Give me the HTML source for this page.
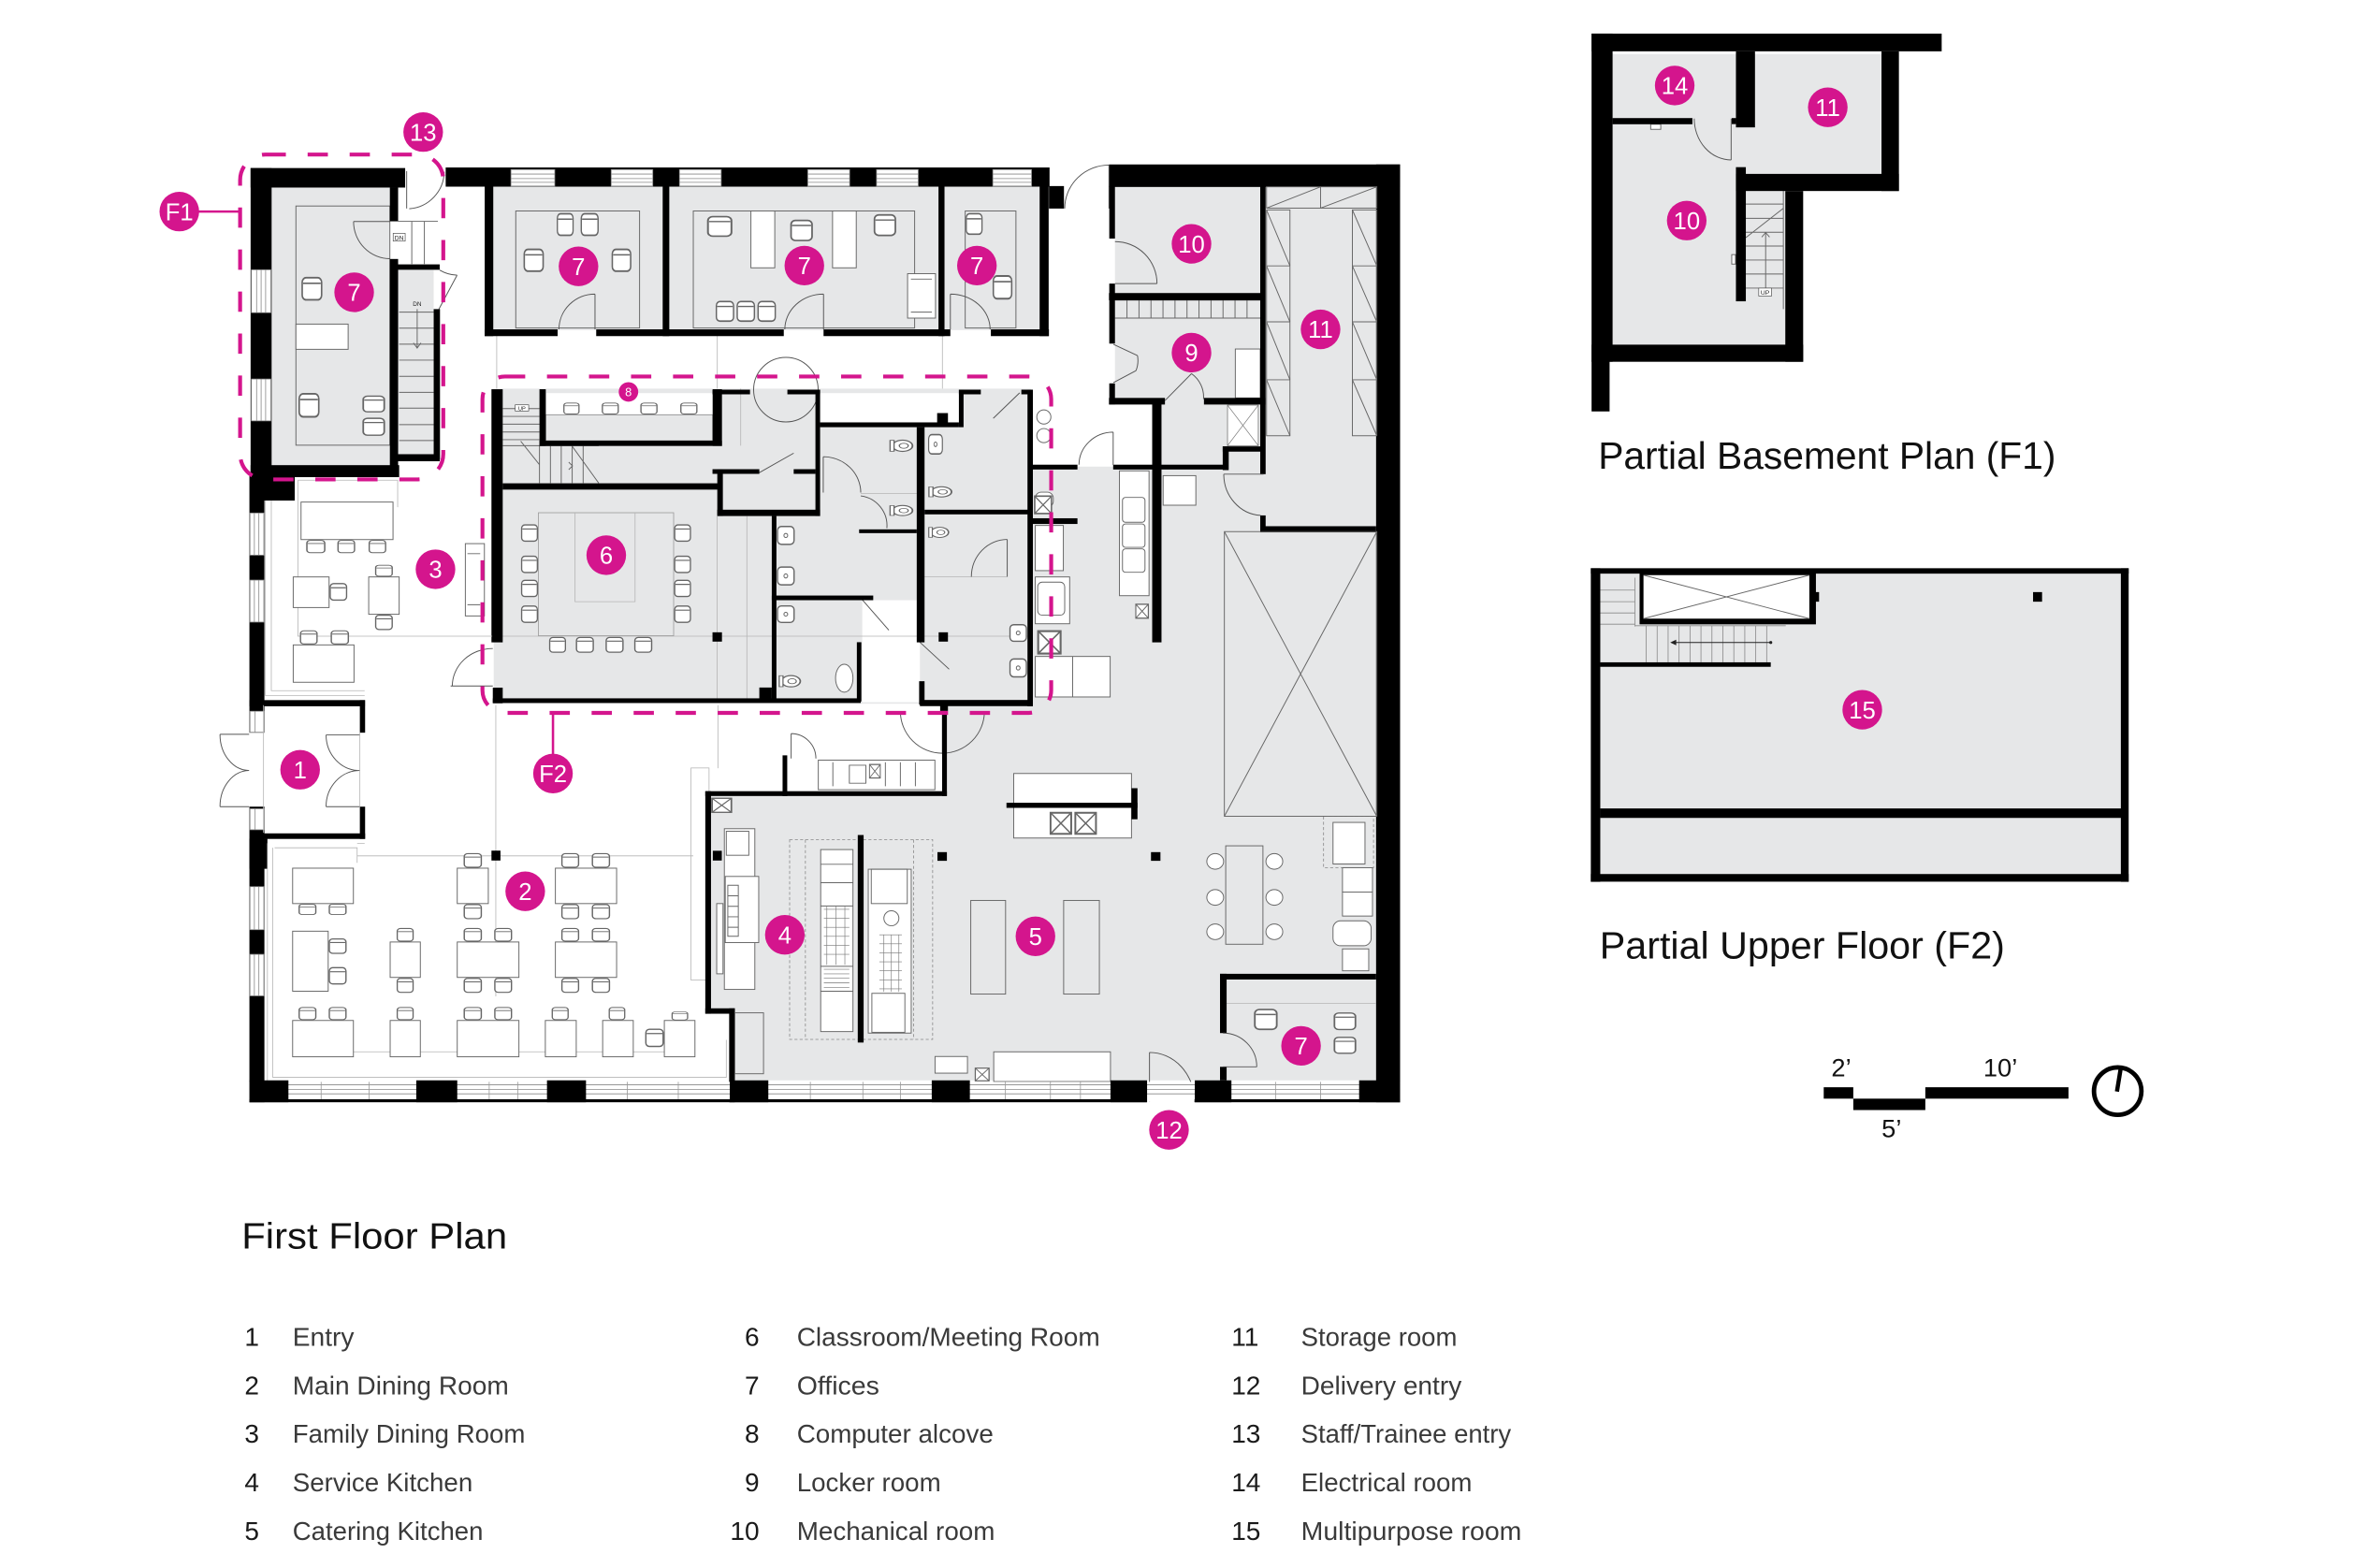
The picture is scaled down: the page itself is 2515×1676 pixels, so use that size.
<!DOCTYPE html>
<html><head><meta charset="utf-8">
<style>
html,body{margin:0;padding:0;background:#fff;}
svg{display:block;}
text{font-family:"Liberation Sans",Arial,sans-serif;}
.l{fill:none;stroke:#666;stroke-width:0.6}
.w{fill:#fff;stroke:#666;stroke-width:0.6}
.gl{fill:none;stroke:#b5b5b5;stroke-width:0.5}
.gf{fill:#e6e7e8}
.k{fill:#000}
.d{fill:none;stroke:#555;stroke-width:0.6}
.mg{fill:#d4158d}
.lab{fill:#fff;font-size:16px;text-anchor:middle}
.dash{fill:none;stroke:#d4158d;stroke-width:2.6;stroke-dasharray:13.5 14.5}
.lg{font-size:17.5px;fill:#3a3a3a}
.ln{font-size:17.5px;fill:#1a1a1a}
</style></head>
<body>
<svg width="2515" height="1676" viewBox="0 0 1568 1045" preserveAspectRatio="none" xmlns="http://www.w3.org/2000/svg">
<defs>
<symbol id="ch" viewBox="0 0 10 10" preserveAspectRatio="none">
<rect x="0.6" y="0.6" width="8.8" height="8.8" rx="1.8" fill="#fff" stroke="#666" stroke-width="0.7"/>
<line x1="1" y1="2.8" x2="9" y2="2.8" stroke="#666" stroke-width="0.6"/>
</symbol>
<symbol id="xb" viewBox="0 0 10 10" preserveAspectRatio="none">
<rect x="0.5" y="0.5" width="9" height="9" fill="#fff" stroke="#666" stroke-width="0.8"/>
<path d="M0.5,0.5 L9.5,9.5 M9.5,0.5 L0.5,9.5" stroke="#666" stroke-width="0.6"/>
</symbol>
<symbol id="wc" viewBox="0 0 10 10" preserveAspectRatio="none">
<ellipse cx="5.5" cy="5" rx="4" ry="3.6" fill="#fff" stroke="#666" stroke-width="0.7"/>
<ellipse cx="6" cy="5" rx="1.8" ry="1.6" fill="none" stroke="#666" stroke-width="0.5"/>
<rect x="0.5" y="1.5" width="1.6" height="7" fill="#fff" stroke="#666" stroke-width="0.5"/>
</symbol>
<symbol id="sk" viewBox="0 0 10 10" preserveAspectRatio="none">
<rect x="0.6" y="0.6" width="8.8" height="8.8" rx="2" fill="#fff" stroke="#666" stroke-width="0.7"/>
<circle cx="5" cy="5" r="1" fill="none" stroke="#666" stroke-width="0.5"/>
</symbol>
</defs>

<!-- ================= MAIN FIRST FLOOR ================= -->
<rect class="gf" x="181" y="125" width="79" height="186"/>
<rect class="gf" x="265" y="180" width="24" height="123"/>
<rect class="gf" x="323" y="124" width="376" height="96"/>
<rect class="gf" x="329" y="259" width="358" height="210"/>
<rect x="546" y="262" width="93" height="20" fill="#fff"/>
<rect x="574.6" y="400" width="38.4" height="68" fill="#fff"/>
<rect x="364" y="262" width="111" height="14.5" fill="#fff"/>
<polygon class="gf" points="473,530 631,530 631,470 687,470 687,311 773,311 773,268 743,268 743,124 917,124 917,720 488,720 488,675 473,675"/>

<path class="gl" d="M331,223 V259 M478,223 V259 M628,223 V259 M330.4,470 V664 M478.4,470 V512 M238,570.4 H462 M329,424 H687 M477.9,344 V467 M497.7,344 V467 M493.6,259 V297"/>

<!-- F1 office furniture -->
<rect class="l" x="197.2" y="137.3" width="62.6" height="159.4"/>
<rect class="w" x="197.2" y="216" width="34.8" height="16.8"/>
<use href="#ch" x="200.5" y="184.1" width="14.7" height="16.7"/>
<use href="#ch" x="198.5" y="261.4" width="14.8" height="17.4"/>
<use href="#ch" x="241.1" y="263.3" width="15.9" height="11.9"/>
<use href="#ch" x="241.1" y="278" width="15.9" height="12.8"/>
<rect x="265.3" y="147.5" width="26.5" height="28.7" fill="#fff"/>
<path class="l" d="M274.4,147.5 V176 M282.8,147.5 V176 M265.3,147.5 H291.8"/>
<rect x="262" y="155.5" width="8" height="5.2" fill="#fff" stroke="#444" stroke-width="0.4"/>
<text x="266" y="159.8" font-size="4.2" text-anchor="middle" fill="#222">DN</text>
<path class="l" d="M266,208 H289 M266,218.7 H289 M266,229.4 H289 M266,240 H289 M266,250.8 H289 M266,261.5 H289 M266,272 H289 M266,283 H289 M266,293.6 H289"/>
<text x="278" y="204" font-size="4" text-anchor="middle" fill="#222">DN</text>
<path class="l" d="M278,206 V232 M275.5,228.5 L278,232 L280.5,228.5"/>
<path class="d" d="M292.5,206 L304.6,183.4 M304.6,183.4 A24,24 0 0 1 293,180"/>

<!-- top walls & windows -->
<rect class="k" x="167" y="112" width="103" height="13"/>
<rect class="k" x="297" y="111.6" width="402.4" height="12.8"/>
<rect class="k" x="699" y="124" width="10" height="15"/>
<rect class="k" x="739" y="109.6" width="194" height="15"/>
<rect class="k" x="917" y="109.6" width="16" height="625"/>
<g fill="#fff" stroke="#888" stroke-width="0.5">
<rect x="340.5" y="113" width="29.2" height="11"/>
<rect x="407.3" y="113" width="27.7" height="11"/>
<rect x="452.8" y="113" width="27.8" height="11"/>
<rect x="538.3" y="113" width="27.9" height="11"/>
<rect x="584.1" y="113" width="27.8" height="11"/>
<rect x="661.6" y="113" width="25.8" height="11"/>
</g>
<path stroke="#888" stroke-width="0.5" d="M340.5,116 H369.7 M340.5,119 H369.7 M340.5,121.5 H369.7 M407.3,116 H435 M407.3,119 H435 M407.3,121.5 H435 M452.8,116 H480.6 M452.8,119 H480.6 M452.8,121.5 H480.6 M538.3,116 H566.2 M538.3,119 H566.2 M538.3,121.5 H566.2 M584.1,116 H611.9 M584.1,119 H611.9 M584.1,121.5 H611.9 M661.6,116 H687.4 M661.6,119 H687.4 M661.6,121.5 H687.4"/>

<!-- left wall -->
<rect class="k" x="167" y="112" width="14" height="206"/>
<rect class="k" x="166.2" y="317" width="10" height="171.3"/>
<rect class="k" x="166.2" y="537.6" width="10" height="197"/>
<rect class="k" x="166.2" y="559" width="12" height="20"/>
<rect class="k" x="167.3" y="317" width="29.1" height="16.6"/>
<g fill="#fff" stroke="#888" stroke-width="0.5">
<rect x="167.5" y="179.8" width="13" height="28.6"/>
<rect x="167.5" y="252.6" width="13" height="27.9"/>
<rect x="166.6" y="341.9" width="9.2" height="28.1"/>
<rect x="166.6" y="386.6" width="9.2" height="28"/>
<rect x="166.6" y="474" width="9.2" height="14"/>
<rect x="166.6" y="539" width="9.2" height="14"/>
<rect x="166.6" y="590.9" width="9.2" height="28.7"/>
<rect x="166.6" y="636" width="9.2" height="27.7"/>
</g>
<path stroke="#888" stroke-width="0.5" d="M171,179.8 V208.4 M174,179.8 V208.4 M177,179.8 V208.4 M171,252.6 V280.5 M174,252.6 V280.5 M177,252.6 V280.5 M169.5,341.9 V370 M172.5,341.9 V370 M169.5,386.6 V414.6 M172.5,386.6 V414.6 M169.5,590.9 V619.6 M172.5,590.9 V619.6 M169.5,636 V663.7 M172.5,636 V663.7 M170,474 V488 M170,539 V553"/>

<!-- F1 block walls -->
<rect class="k" x="167" y="310" width="99" height="8"/>
<rect class="k" x="259.8" y="125" width="5.5" height="22.5"/>
<rect class="k" x="259.8" y="172.6" width="5.5" height="140"/>
<rect class="k" x="265" y="176.2" width="28" height="3.6"/>
<rect class="k" x="289" y="206" width="4.2" height="100.3"/>
<rect class="k" x="265" y="302.7" width="28" height="4.7"/>
<path class="d" d="M271,114 V139 M272.7,139.1 A25,25 0 0 0 296,114.5"/>
<path class="d" d="M259.8,147.6 H235.6 M235.6,147.6 A24.2,24.8 0 0 0 259.8,172.4"/>

<!-- Offices -->
<rect class="l" x="343.7" y="140.6" width="82.5" height="78"/>
<rect class="l" x="462" y="140.6" width="147.5" height="78"/>
<rect class="l" x="643.2" y="140.6" width="33.8" height="78"/>
<use href="#ch" x="370.7" y="141.5" width="11.9" height="16.3"/>
<use href="#ch" x="386.6" y="141.5" width="12.7" height="16.3"/>
<use href="#ch" x="348.5" y="165.2" width="14.3" height="16.5"/>
<use href="#ch" x="407.2" y="165.2" width="13.9" height="16.5"/>
<rect class="w" x="500.4" y="140.6" width="15.9" height="37.9"/>
<rect class="w" x="554.8" y="140.6" width="15.8" height="37.9"/>
<use href="#ch" x="470.7" y="143.5" width="17.8" height="14.8"/>
<use href="#ch" x="526.2" y="146" width="15.9" height="15.2"/>
<use href="#ch" x="581.8" y="142.3" width="15.8" height="15.5"/>
<use href="#ch" x="476.6" y="200.1" width="13" height="14.8"/>
<use href="#ch" x="490.5" y="200.1" width="13" height="14.8"/>
<use href="#ch" x="504.4" y="200.1" width="13" height="14.8"/>
<rect class="w" x="604.8" y="182.4" width="18.6" height="29.6"/>
<path class="l" d="M607,186 H621 M607,208 H621"/>
<use href="#ch" x="643.2" y="141.5" width="11.9" height="15.5"/>
<use href="#ch" x="661.1" y="182.9" width="13.9" height="17.2"/>
<rect class="k" x="323" y="124" width="5.7" height="100"/>
<rect class="k" x="441.6" y="124" width="4.4" height="100"/>
<rect class="k" x="625.4" y="124" width="4" height="100"/>
<rect class="k" x="692.8" y="124" width="6" height="100"/>
<rect class="k" x="323" y="219.5" width="48.6" height="4.5"/>
<rect class="k" x="397.3" y="219.5" width="125" height="4.5"/>
<rect class="k" x="548.8" y="219.5" width="84.5" height="4.5"/>
<rect class="k" x="660.3" y="219.5" width="38.7" height="4.5"/>
<path class="d" d="M396.5,219.5 V196 M396.5,196 A24,23.5 0 0 0 372.5,219.5"/>
<path class="d" d="M548.8,219.5 V196 M548.8,196 A25.8,23.5 0 0 0 523,219.5"/>
<path class="d" d="M633.3,219.5 V196 M633.3,196 A26.5,23.5 0 0 1 659.8,219.5"/>
<path class="d" d="M739,139 V110 M739,110 A29.5,29 0 0 0 709.5,139"/>

<!-- Right block rooms 10 / 9 / 11 -->
<path class="l" d="M743,200 H840 M743,212 H840 M751,200 V212 M759,200 V212 M767,200 V212 M775,200 V212 M783,200 V212 M791,200 V212 M799,200 V212 M807,200 V212 M815,200 V212 M823,200 V212 M831,200 V212"/>
<rect class="w" x="823.2" y="232.6" width="16.6" height="32.6"/>
<g class="l">
<rect x="844" y="124.5" width="73.5" height="14.2"/>
<path d="M844,138.7 L880,124.5 M880,138.7 L917.5,124.5 M880,124.5 V138.7"/>
<rect x="844" y="139.9" width="15.6" height="150.5"/>
<path d="M844,177.2 H859.6 M844,214.5 H859.6 M844,253.1 H859.6 M844,139.9 L859.6,177.2 M844,177.2 L859.6,214.5 M844,214.5 L859.6,253.1 M844,253.1 L859.6,290.4"/>
<rect x="901.2" y="139.9" width="16.3" height="150.5"/>
<path d="M901.2,177.2 H917.5 M901.2,214.5 H917.5 M901.2,253.1 H917.5 M901.2,139.9 L917.5,177.2 M901.2,177.2 L917.5,214.5 M901.2,214.5 L917.5,253.1 M901.2,253.1 L917.5,290.4"/>
</g>
<rect x="818" y="270" width="20.5" height="27" fill="#fff" stroke="#777" stroke-width="0.5"/>
<path stroke="#777" stroke-width="0.45" d="M818,270 L838.5,297 M838.5,270 L818,297"/>
<rect class="k" x="739.2" y="124" width="3.8" height="35"/>
<rect class="k" x="739.2" y="189" width="3.8" height="40"/>
<rect class="k" x="739.2" y="255.5" width="3.8" height="14"/>
<rect class="k" x="739" y="195.3" width="104" height="4.8"/>
<rect class="k" x="839.8" y="124" width="3.6" height="192"/>
<rect class="k" x="839.8" y="343.5" width="3.6" height="11"/>
<rect class="k" x="739" y="265.2" width="37.3" height="4.4"/>
<rect class="k" x="802.3" y="265.2" width="41" height="4.4"/>
<rect class="k" x="767.8" y="267.6" width="6.2" height="160.5"/>
<rect class="k" x="687.8" y="309.7" width="30.2" height="3.2"/>
<rect class="k" x="741.8" y="309.7" width="76" height="3.2"/>
<rect class="k" x="814.8" y="297.5" width="4" height="15.8"/>
<rect class="k" x="814.8" y="297.5" width="28" height="3.5"/>
<rect class="k" x="839.8" y="350.7" width="77.2" height="4.1"/>
<rect class="k" x="687.8" y="345.4" width="30.2" height="3.8"/>
<path class="d" d="M771,189 H743 M771,189 A28,28 0 0 0 743,161"/>
<path class="d" d="M742,229.5 L758,237 M742,255 L757,247 M758,237 A18,18 0 0 1 757,247"/>
<path class="d" d="M776.3,267 L794,249 M794,249 A19,19 0 0 1 802,266"/>
<path class="d" d="M741.8,310 V288 M741.8,288 A23,22 0 0 0 719,309.7"/>
<path class="d" d="M842,316 H815.5 M815.5,316 A26,27.5 0 0 0 840,343.5"/>

<!-- F2 block: stairs, alcove, room 6 -->
<path class="l" d="M335,272.3 H359.5 M335,277.5 H359.5 M335,282.7 H359.5 M335,287.9 H359.5 M335,293 H359.5"/>
<rect x="343.3" y="269.8" width="9" height="4.1" fill="#fff" stroke="#444" stroke-width="0.4"/>
<text x="347.8" y="273.4" font-size="3.6" text-anchor="middle" fill="#222">UP</text>
<path class="l" d="M359.5,297 V322 M366.8,297 V322 M374,297 V322 M381.3,297 V322 M388.6,297 V322 M347,294 L359.5,309.7 M381,297 L399,322 M335,297 H399 M379,308 L381.5,310.5 L379,313"/>
<rect x="363.7" y="276.4" width="111.2" height="17.3" fill="#e6e7e8" stroke="#888" stroke-width="0.5"/>
<use href="#ch" x="375.1" y="268.1" width="11.4" height="8.3"/>
<use href="#ch" x="400.7" y="268.1" width="12" height="8.3"/>
<use href="#ch" x="426.4" y="268.1" width="12.1" height="8.3"/>
<use href="#ch" x="453" y="268.1" width="12.1" height="8.3"/>
<use href="#ch" x="346.9" y="349.1" width="11.9" height="12.3"/>
<use href="#ch" x="346.9" y="370" width="11.9" height="12.3"/>
<use href="#ch" x="346.9" y="386" width="11.9" height="12.3"/>
<use href="#ch" x="346.9" y="403.2" width="11.9" height="12.3"/>
<use href="#ch" x="448.9" y="349.1" width="11.9" height="12.3"/>
<use href="#ch" x="448.9" y="370" width="11.9" height="12.3"/>
<use href="#ch" x="448.9" y="386" width="11.9" height="12.3"/>
<use href="#ch" x="448.9" y="403.2" width="11.9" height="12.3"/>
<use href="#ch" x="365.6" y="424.2" width="11.9" height="11.1"/>
<use href="#ch" x="383.4" y="424.2" width="12.7" height="11.1"/>
<use href="#ch" x="403.2" y="424.2" width="12.7" height="11.1"/>
<use href="#ch" x="422.3" y="424.2" width="12.7" height="11.1"/>
<rect x="358.8" y="341.7" width="90.1" height="82" fill="#e6e7e8" stroke="#999" stroke-width="0.5"/>
<path class="gl" d="M383.2,341.7 V401 H423.2 V341.7"/>

<!-- toilet fixtures -->
<use href="#wc" x="592.3" y="291.9" width="16.6" height="10.4"/>
<use href="#wc" x="592.3" y="335.6" width="16.6" height="9.3"/>
<use href="#wc" x="618.2" y="323.1" width="16.7" height="9.4"/>
<use href="#wc" x="618.2" y="350.1" width="14.6" height="9.4"/>
<use href="#wc" x="518.5" y="448.8" width="15.6" height="10.4"/>
<ellipse cx="562.6" cy="452" rx="5.8" ry="9.3" fill="#fff" stroke="#666" stroke-width="0.6"/>
<use href="#sk" x="517.4" y="350.1" width="12.5" height="13.5"/>
<use href="#sk" x="517.4" y="377.1" width="12.5" height="13.5"/>
<use href="#sk" x="517.4" y="403.1" width="12.5" height="12.5"/>
<use href="#sk" x="618.2" y="288.8" width="10.4" height="14.6"/>
<use href="#sk" x="672.3" y="415.6" width="12.4" height="12.5"/>
<use href="#sk" x="672.3" y="438.4" width="12.4" height="13.5"/>
<circle cx="695.6" cy="277.9" r="4.7" fill="#fff" stroke="#666" stroke-width="0.6"/>
<circle cx="695.6" cy="290.3" r="4.7" fill="#fff" stroke="#666" stroke-width="0.6"/>
<path class="gl" d="M573.6,329 H610.9 M616,384.4 H671"/>
<path class="d" d="M548.6,328.3 V304.4 M548.6,304.4 A25,24 0 0 1 573.6,328.3"/>
<path class="d" d="M573.6,330.5 A20,20 0 0 1 591,352"/>
<path class="d" d="M671.2,384.4 V359.5 M671.2,359.5 A24,25 0 0 0 647.3,384.4"/>
<path class="d" d="M679.5,261.8 L661.9,278.8"/>
<path class="d" d="M506,315 L528.9,302 M574,399 L592.3,420 M613,428 L632.5,446"/>
<circle cx="523.7" cy="259.7" r="21.5" class="d"/>

<!-- F2 walls -->
<rect class="k" x="327.5" y="259.4" width="7.5" height="168.7"/>
<rect class="k" x="328.4" y="458.3" width="6.6" height="10.4"/>
<rect class="k" x="335" y="322.1" width="146" height="4.2"/>
<rect class="k" x="359.5" y="259.4" width="4.2" height="37.8"/>
<rect class="k" x="359.5" y="293.7" width="121.6" height="3.5"/>
<rect class="k" x="474.9" y="259.4" width="6.2" height="37.8"/>
<rect class="k" x="474.8" y="259.7" width="25" height="3.1"/>
<rect class="k" x="524.7" y="259.7" width="21.8" height="3.1"/>
<rect class="k" x="543.4" y="259.7" width="3.1" height="84.2"/>
<rect class="k" x="478" y="312.7" width="3.7" height="31.2"/>
<rect class="k" x="474.8" y="312.7" width="31.2" height="3.1"/>
<rect class="k" x="528.9" y="312.7" width="14.5" height="3.1"/>
<rect class="k" x="478" y="339.7" width="68.5" height="4.2"/>
<rect class="k" x="546.5" y="281.5" width="92.5" height="3.2"/>
<rect class="k" x="639" y="259.7" width="3.1" height="25"/>
<rect class="k" x="639" y="259.7" width="14.6" height="3.1"/>
<rect class="k" x="680.6" y="259.7" width="7.3" height="3.1"/>
<rect class="k" x="624.5" y="275.3" width="7.2" height="7.3"/>
<rect class="k" x="684.7" y="259.7" width="3.6" height="211"/>
<rect class="k" x="610.9" y="284.7" width="5.2" height="143.4"/>
<rect class="k" x="612.5" y="454" width="3.6" height="15.6"/>
<rect class="k" x="616.1" y="339.7" width="71.8" height="3.1"/>
<rect class="k" x="572.5" y="352.8" width="38.4" height="2.5"/>
<rect class="k" x="514.3" y="343.9" width="3.1" height="123.6"/>
<rect class="k" x="514.3" y="396.9" width="67.6" height="3.1"/>
<rect class="k" x="571" y="428" width="3" height="39.5"/>
<rect class="k" x="328.4" y="465.4" width="245.2" height="3.1"/>
<rect class="k" x="613" y="466.5" width="74.9" height="4.1"/>
<rect class="k" x="506" y="458.2" width="8.3" height="9.3"/>
<rect class="k" x="626.5" y="467.5" width="5.2" height="6.3"/>
<rect class="k" x="474.8" y="421.4" width="6.3" height="6.2"/>
<rect class="k" x="625.5" y="421.4" width="6.2" height="6.2"/>
<path class="d" d="M328.4,457.2 H300.3 M301.4,457.2 A27,25 0 0 1 328.4,432.2"/>

<!-- Family dining (3) -->
<path class="gl" d="M176.7,333.6 V463.5 H243 M180.8,333.6 V460.3 H243 M198.5,320 V424 H328 M198.5,320 H265 V338"/>
<use href="#ch" x="203.7" y="359.6" width="13.5" height="9.3"/>
<use href="#ch" x="224.5" y="359.6" width="12.5" height="9.3"/>
<use href="#ch" x="245.3" y="359.6" width="12.4" height="9.3"/>
<use href="#ch" x="219.3" y="388.2" width="12.4" height="12.5"/>
<use href="#ch" x="249.6" y="376.2" width="12.5" height="8.3"/>
<use href="#ch" x="249.6" y="409.4" width="12.5" height="10.8"/>
<use href="#ch" x="199.5" y="419.8" width="12.5" height="10"/>
<use href="#ch" x="220" y="419.8" width="12.9" height="10"/>
<rect class="w" x="200.6" y="334.6" width="61.3" height="25"/>
<rect class="w" x="195.4" y="384.5" width="23.9" height="20.4"/>
<rect class="w" x="245.7" y="384.5" width="20.3" height="24.9"/>
<rect class="w" x="195.4" y="429.8" width="40.5" height="24.9"/>
<rect class="w" x="310.1" y="362.3" width="12.7" height="48.2"/>
<path class="l" d="M311.5,369 H320 M311.5,403 H320"/>

<!-- Entry (1) -->
<rect class="k" x="166.2" y="466.6" width="77" height="4.1"/>
<rect class="k" x="239.8" y="466.6" width="3.5" height="21.7"/>
<rect class="k" x="239.8" y="537.6" width="3.5" height="21.5"/>
<rect class="k" x="175.4" y="555.4" width="67.9" height="3.7"/>
<path class="gl" d="M175.6,470 V555 M239.8,488 V537.6"/>
<path class="d" d="M166,489.4 H146.6 M146.6,489.4 A19.6,24 0 0 0 166,513.5 M166,537.6 H146.6 M146.6,537.6 A19.6,24 0 0 1 166,513.5"/>
<path class="d" d="M239.6,489.8 H217.3 M217.3,489.8 A22.3,23.7 0 0 0 239.6,513.5 M239.6,537.6 H217.3 M217.3,537.6 A22.3,24 0 0 1 239.6,513.5"/>

<!-- Main dining (2) -->
<path class="gl" d="M178.2,562 V721 M181.8,565 V718 H484 V693 M486.3,693 V721 M243,562 H238 M183,565 H238 V575 M195,701 H463"/>
<use href="#ch" x="198.6" y="602.2" width="12.6" height="7.8"/>
<use href="#ch" x="218.7" y="602.2" width="12.6" height="7.8"/>
<use href="#ch" x="308.6" y="568.3" width="12.9" height="10.3"/>
<use href="#ch" x="308.6" y="602.2" width="12.9" height="10.7"/>
<use href="#ch" x="373.7" y="568.3" width="12.6" height="10.3"/>
<use href="#ch" x="394" y="568.3" width="12.9" height="10.3"/>
<use href="#ch" x="373.7" y="602.2" width="12.6" height="10.7"/>
<use href="#ch" x="394" y="602.2" width="12.9" height="10.7"/>
<use href="#ch" x="218.7" y="625.1" width="12.6" height="10.9"/>
<use href="#ch" x="218.7" y="644.2" width="12.6" height="12.3"/>
<use href="#ch" x="264" y="618.2" width="12" height="9.6"/>
<use href="#ch" x="264" y="651.4" width="12" height="10.6"/>
<use href="#ch" x="308.6" y="618.2" width="12.9" height="9.6"/>
<use href="#ch" x="329" y="618.2" width="12.6" height="9.6"/>
<use href="#ch" x="308.6" y="651.4" width="12.9" height="10.6"/>
<use href="#ch" x="329" y="651.4" width="12.6" height="10.6"/>
<use href="#ch" x="373.7" y="618.2" width="12.6" height="9.6"/>
<use href="#ch" x="394" y="618.2" width="12.9" height="9.6"/>
<use href="#ch" x="373.7" y="651.4" width="12.6" height="10.6"/>
<use href="#ch" x="394" y="651.4" width="12.9" height="10.6"/>
<use href="#ch" x="198.6" y="670.9" width="12.6" height="9.2"/>
<use href="#ch" x="218.7" y="670.9" width="12.6" height="9.2"/>
<use href="#ch" x="264" y="670.9" width="12" height="9.2"/>
<use href="#ch" x="308.6" y="670.9" width="12.9" height="9.2"/>
<use href="#ch" x="329" y="670.9" width="12.6" height="9.2"/>
<use href="#ch" x="367.3" y="670.9" width="12" height="9.2"/>
<use href="#ch" x="405.3" y="670.9" width="11.7" height="9.2"/>
<use href="#ch" x="447.2" y="674" width="11.7" height="6.1"/>
<use href="#ch" x="429.6" y="685.2" width="13.1" height="13"/>
<rect class="w" x="195" y="578.6" width="40.5" height="23.6"/>
<rect class="w" x="304.7" y="578.6" width="20.7" height="23.6"/>
<rect class="w" x="370.1" y="578.6" width="40.8" height="23.6"/>
<rect class="w" x="195" y="620.6" width="23.7" height="40"/>
<rect class="w" x="260" y="627.8" width="20.1" height="23.6"/>
<rect class="w" x="304.7" y="627.8" width="41.1" height="23.6"/>
<rect class="w" x="370.1" y="627.8" width="40.8" height="23.6"/>
<rect class="w" x="195" y="680.1" width="40.5" height="24.2"/>
<rect class="w" x="260" y="680.1" width="20.1" height="24.2"/>
<rect class="w" x="304.7" y="680.1" width="41.1" height="24.2"/>
<rect class="w" x="363.4" y="680.1" width="20.6" height="24.2"/>
<rect class="w" x="401.6" y="680.1" width="20.4" height="24.2"/>
<rect class="w" x="442.7" y="680.1" width="20.4" height="24.2"/>
<rect class="gl" x="460.5" y="511.8" width="12" height="141.4"/>
<rect class="k" x="327.5" y="566.9" width="6" height="6.6"/>

<!-- Kitchenette & kitchen -->
<rect class="w" x="545.3" y="506.6" width="77.7" height="19.7"/>
<path class="l" d="M555,508 V524 M566,510 H577 V522 H566 Z M590,508 V524 M600,508 V524 M610,508 V524"/>
<use href="#xb" x="579" y="509" width="8" height="10"/>
<path class="d" d="M527.2,505.5 V488.9 M527.2,488.9 A16.5,16.6 0 0 1 543.7,505.5"/>
<path class="d" d="M628,474 V502 M600,474 A28,28 0 0 0 628,502 M628,502 A28,28 0 0 0 656,474"/>
<rect class="k" x="521.5" y="503.4" width="3.1" height="27"/>
<rect class="k" x="521.5" y="527.3" width="109.5" height="3.2"/>
<rect class="k" x="627.8" y="474" width="3.2" height="56.5"/>
<rect class="k" x="470" y="527.3" width="54.6" height="3.2"/>
<rect class="k" x="470" y="527.3" width="3.8" height="148.3"/>
<rect class="k" x="470" y="672" width="19.7" height="3.6"/>
<rect class="k" x="485.9" y="672" width="3.8" height="62.6"/>
<use href="#xb" x="473.8" y="531.5" width="14.3" height="10.4"/>
<rect class="k" x="475" y="567" width="6" height="6.5"/>
<rect class="w" x="482.7" y="552.3" width="20.3" height="107.1"/>
<rect class="w" x="484" y="554" width="15" height="16"/>
<rect class="w" x="483.3" y="584.1" width="22.3" height="44.1"/>
<path class="l" d="M485,590 H492 V624 H485 Z M485,597 H492 M485,604 H492 M485,611 H492 M485,618 H492"/>
<rect class="w" x="477.6" y="602.2" width="4.2" height="46.8"/>
<rect class="l" x="489.7" y="675" width="19.1" height="40.6"/>
<rect x="526.2" y="559.6" width="95.3" height="133.1" fill="none" stroke="#888" stroke-width="0.5" stroke-dasharray="2 1.5"/>
<path stroke="#888" stroke-width="0.5" stroke-dasharray="2 1.5" d="M536.7,559.6 V692.7 M608.8,559.6 V692.7"/>
<rect class="w" x="546.9" y="566.2" width="21.5" height="121.3"/>
<path class="l" d="M546.9,576 H568.4 M546.9,588.3 H568.4 M546.9,603.8 H568.4 M546.9,644 H568.4 M546.9,660.6 H568.4"/>
<path stroke="#777" stroke-width="0.4" fill="none" d="M549,606 H566 M549,612 H566 M549,618 H566 M549,624 H566 M549,630 H566 M549,636 H566 M551,604 V643 M557,604 V643 M563,604 V643 M549,646 H566 M549,649 H566 M549,652 H566 M549,655 H566 M549,658 H566"/>
<rect class="k" x="571.6" y="556.5" width="3.9" height="138.3"/>
<rect class="w" x="578.6" y="579.3" width="28.6" height="109.2"/>
<rect class="l" x="580.6" y="579.3" width="24" height="22.9"/>
<circle cx="594" cy="612" r="5" class="l"/>
<path stroke="#777" stroke-width="0.4" fill="none" d="M586,623 H601 M586,629 H601 M586,635 H601 M586,641 H601 M586,647 H601 M586,653 H601 M586,659 H601 M589,623 V661 M594,623 V661 M599,623 V661"/>
<rect class="l" x="581" y="662" width="22" height="26"/>
<rect class="k" x="624.7" y="567.9" width="6.3" height="5.8"/>
<rect class="k" x="767" y="567.9" width="6.3" height="5.8"/>
<rect class="w" x="675.5" y="515.5" width="78.5" height="43"/>
<use href="#xb" x="699.3" y="540.9" width="15.3" height="15.6"/>
<use href="#xb" x="715.8" y="540.9" width="15.3" height="15.6"/>
<rect class="k" x="670.7" y="535" width="87.3" height="3.4"/>
<rect class="k" x="754" y="525.3" width="4" height="20.7"/>
<rect class="l" x="646.9" y="600.1" width="23.2" height="62.4"/>
<rect class="l" x="708.8" y="600.1" width="23.8" height="62.4"/>
<g fill="#fff" stroke="#666" stroke-width="0.6">
<ellipse cx="809.8" cy="574.1" rx="5.6" ry="5.2"/>
<ellipse cx="809.8" cy="598.1" rx="5.6" ry="5.2"/>
<ellipse cx="809.8" cy="621" rx="5.6" ry="5.2"/>
<ellipse cx="849.2" cy="574.1" rx="5.6" ry="5.2"/>
<ellipse cx="849.2" cy="598.1" rx="5.6" ry="5.2"/>
<ellipse cx="849.2" cy="621" rx="5.6" ry="5.2"/>
</g>
<rect class="l" x="816.8" y="563.7" width="24.8" height="65.6"/>
<rect x="882" y="544" width="33.3" height="34.3" fill="none" stroke="#888" stroke-width="0.5" stroke-dasharray="2 1.5"/>
<rect class="w" x="888.3" y="548.1" width="21.3" height="27.7"/>
<rect class="w" x="894.6" y="578.3" width="20" height="16.2"/>
<rect class="w" x="894.6" y="594.5" width="20" height="16"/>
<rect class="w" x="888.3" y="613.7" width="25.4" height="16.6" rx="5"/>
<rect class="w" x="894.6" y="632.4" width="17.5" height="14.6"/>
<rect class="l" x="815.9" y="354.3" width="101.6" height="189.7"/>
<path class="l" d="M815.9,354.3 L917.5,544 M917.5,354.3 L815.9,544"/>
<rect class="w" x="746" y="313.8" width="19.7" height="83.2"/>
<rect class="l" x="748" y="331.5" width="15" height="16.6" rx="2"/>
<rect class="l" x="748" y="349.2" width="15" height="15.6" rx="2"/>
<rect class="l" x="748" y="365.8" width="15" height="15.6" rx="2"/>
<rect class="w" x="775.1" y="317" width="21.8" height="19.7"/>
<use href="#xb" x="756.4" y="402.2" width="9.3" height="10.3"/>
<rect class="w" x="689.9" y="328" width="12" height="10" rx="4"/>
<use href="#xb" x="688.9" y="330" width="12.4" height="12.9"/>
<rect class="w" x="689.9" y="350.2" width="18.7" height="30.1"/>
<rect class="w" x="689.9" y="384.5" width="22.9" height="31.2"/>
<rect class="l" x="691.5" y="388" width="18" height="22" rx="3"/>
<use href="#xb" x="691" y="419.8" width="16.6" height="16.6"/>
<rect class="w" x="689.9" y="437.5" width="49.9" height="27"/>
<path class="l" d="M714.8,437.5 V464.5"/>
<path class="gl" d="M817.4,668.8 H917"/>
<use href="#ch" x="835.2" y="671.9" width="16.6" height="15"/>
<use href="#ch" x="888.3" y="674.4" width="15.9" height="12.5"/>
<use href="#ch" x="888.3" y="690.6" width="15.9" height="12.1"/>
<rect class="k" x="813" y="649" width="104" height="3.8"/>
<rect class="k" x="813" y="649" width="4.4" height="39.5"/>
<rect class="k" x="813" y="711" width="4.4" height="9"/>
<path class="d" d="M815,711 H837.5 M837.5,711 A22.5,22.5 0 0 0 815,688.5"/>
<rect class="w" x="662.2" y="701" width="77.8" height="19.8"/>
<rect class="w" x="623.1" y="704.1" width="21.6" height="11.1"/>
<use href="#xb" x="649.4" y="711.4" width="10.2" height="9.4"/>
<path class="d" d="M766,734 V701.4 M766,701.4 A30,32.6 0 0 1 796,734"/>

<!-- bottom wall -->
<rect x="166.2" y="721" width="766.8" height="13" fill="#fff"/>
<path stroke="#888" stroke-width="0.5" d="M176,723 H933 M176,726 H933 M176,729 H933"/>
<path stroke="#999" stroke-width="0.5" d="M214,721 V733 M246,721 V733 M326,721 V733 M345,721 V733 M418,721 V733 M452,721 V733 M540,721 V733 M575,721 V733 M600,721 V733 M670,721 V733 M700,721 V733 M720,721 V733 M850,721 V733 M880,721 V733"/>
<rect class="k" x="166.2" y="732.6" width="598" height="2"/>
<rect class="k" x="796" y="732.6" width="137" height="2"/>
<rect class="k" x="166.2" y="720" width="26" height="14.6"/>
<rect class="k" x="277.4" y="720" width="27.3" height="14.6"/>
<rect class="k" x="364.5" y="720" width="26" height="14.6"/>
<rect class="k" x="486.3" y="720" width="25.7" height="14.6"/>
<rect class="k" x="620.9" y="720" width="25.4" height="14.6"/>
<rect class="k" x="740" y="720" width="24.4" height="14.6"/>
<rect class="k" x="796.2" y="720" width="24.4" height="14.6"/>
<rect class="k" x="905.7" y="720" width="27.3" height="14.6"/>

<!-- dashed boundaries -->
<rect class="dash" x="160" y="103" width="135.4" height="216.5" rx="17" ry="17"/>
<line x1="132" y1="141" x2="160" y2="141" stroke="#d4158d" stroke-width="1.6"/>
<rect class="dash" x="321.5" y="250.9" width="379" height="224.2" rx="15" ry="15"/>
<line x1="368.5" y1="475" x2="368.5" y2="503" stroke="#d4158d" stroke-width="1.6"/>

<!-- labels main -->
<g>
<circle class="mg" cx="282" cy="88" r="13.2"/><text class="lab" x="282" y="93.7">13</text>
<circle class="mg" cx="119.5" cy="141" r="13.2"/><text class="lab" x="119.5" y="146.7">F1</text>
<circle class="mg" cx="236" cy="194.8" r="13.2"/><text class="lab" x="236" y="200.5">7</text>
<circle class="mg" cx="385.5" cy="177.5" r="13.2"/><text class="lab" x="385.5" y="183.2">7</text>
<circle class="mg" cx="536" cy="177" r="13.2"/><text class="lab" x="536" y="182.7">7</text>
<circle class="mg" cx="651" cy="177" r="13.2"/><text class="lab" x="651" y="182.7">7</text>
<circle class="mg" cx="794" cy="162.5" r="13.2"/><text class="lab" x="794" y="168.2">10</text>
<circle class="mg" cx="794" cy="235" r="13.2"/><text class="lab" x="794" y="240.7">9</text>
<circle class="mg" cx="880" cy="219.5" r="13.2"/><text class="lab" x="880" y="225.2">11</text>
<circle class="mg" cx="418.8" cy="261.2" r="6.5"/><text x="418.8" y="264" font-size="8" fill="#fff" text-anchor="middle">8</text>
<circle class="mg" cx="290.2" cy="379.4" r="13.2"/><text class="lab" x="290.2" y="385.1">3</text>
<circle class="mg" cx="404" cy="370" r="13.2"/><text class="lab" x="404" y="375.7">6</text>
<circle class="mg" cx="200" cy="513" r="13.2"/><text class="lab" x="200" y="518.7">1</text>
<circle class="mg" cx="368.5" cy="515.5" r="13.2"/><text class="lab" x="368.5" y="521.2">F2</text>
<circle class="mg" cx="350" cy="594" r="13.2"/><text class="lab" x="350" y="599.7">2</text>
<circle class="mg" cx="523" cy="623" r="13.2"/><text class="lab" x="523" y="628.7">4</text>
<circle class="mg" cx="690" cy="624" r="13.2"/><text class="lab" x="690" y="629.7">5</text>
<circle class="mg" cx="867" cy="697" r="13.2"/><text class="lab" x="867" y="702.7">7</text>
<circle class="mg" cx="779" cy="753" r="13.2"/><text class="lab" x="779" y="758.7">12</text>
</g>

<!-- ================= BASEMENT ================= -->
<polygon class="gf" points="1074,36 1254,36 1254,116 1190,116 1190,230 1074,230"/>
<path class="l" d="M1163.4,136 H1188.4 M1163.4,145.5 H1188.4 M1163.4,154.8 H1188.4 M1163.4,164 H1188.4 M1163.4,173.3 H1188.4 M1163.4,182.6 H1188.4 M1163.4,192 H1188.4 M1188.4,127 V206 M1163.4,158.4 L1188.4,138.8 M1176.6,192 V155 M1174,158 L1176.6,155 L1179.2,158"/>
<rect x="1172" y="192" width="8.5" height="5.3" fill="#fff" stroke="#444" stroke-width="0.4"/>
<text x="1176.2" y="196.3" font-size="4.2" text-anchor="middle" fill="#222">UP</text>
<rect class="w" x="1100" y="82.8" width="6.7" height="3.4"/>
<rect class="w" x="1154" y="169.7" width="2.5" height="6.3"/>
<rect class="k" x="1060.6" y="22.4" width="233.3" height="11.8"/>
<rect class="k" x="1060.6" y="22.4" width="14" height="218.7"/>
<rect class="k" x="1060.6" y="240" width="12" height="34.2"/>
<rect class="k" x="1156.8" y="34.2" width="12.7" height="50.7"/>
<rect class="k" x="1074.6" y="78.7" width="53.2" height="4.1"/>
<rect class="k" x="1154" y="78.7" width="2.8" height="4"/>
<rect class="k" x="1253.8" y="34.2" width="11.6" height="93.1"/>
<rect class="k" x="1156.8" y="115.9" width="108.6" height="11.4"/>
<rect class="k" x="1156.8" y="111.4" width="6.6" height="89.4"/>
<rect class="k" x="1189.7" y="127.3" width="11.9" height="113.8"/>
<rect class="k" x="1060.6" y="229.7" width="141" height="11.4"/>
<path class="d" d="M1153.6,79 V106.6 M1129,79 A24.6,27.6 0 0 0 1153.6,106.6"/>
<circle class="mg" cx="1116" cy="57" r="13.2"/><text class="lab" x="1116" y="62.7">14</text>
<circle class="mg" cx="1218" cy="71.5" r="13.2"/><text class="lab" x="1218" y="77.2">11</text>
<circle class="mg" cx="1124" cy="147" r="13.2"/><text class="lab" x="1124" y="152.7">10</text>
<text x="1065" y="312.5" font-size="25.5" fill="#111" textLength="305" lengthAdjust="spacingAndGlyphs">Partial Basement Plan (F1)</text>

<!-- ================= UPPER FLOOR ================= -->
<rect class="gf" x="1066.4" y="382" width="347" height="200.5"/>
<path stroke="#888" stroke-width="0.5" fill="none" d="M1066.4,393.3 H1089.5 M1066.4,401 H1089.5 M1066.4,408.5 H1089.5 M1066.4,416 H1089.5 M1089.5,385 V417.5 M1089.5,417 H1190"/>
<path stroke="#888" stroke-width="0.5" fill="none" d="M1097,417 V441.4 M1104.3,417 V441.4 M1111.6,417 V441.4 M1118.9,417 V441.4 M1126.2,417 V441.4 M1133.5,417 V441.4 M1140.8,417 V441.4 M1148.1,417 V441.4 M1155.4,417 V441.4 M1162.7,417 V441.4 M1170,417 V441.4 M1177.3,417 V441.4"/>
<path stroke="#222" stroke-width="0.6" d="M1180,428.2 H1116"/>
<polygon points="1113,428.2 1117,426.3 1117,430.1" fill="#222"/>
<circle cx="1180" cy="428.2" r="1" fill="#222"/>
<rect class="k" x="1092.6" y="381.2" width="117.5" height="34.9"/>
<rect x="1095.2" y="383.3" width="110.5" height="29" fill="#fff"/>
<path class="l" d="M1095.2,383.3 L1205.7,412.3 M1095.2,412.3 L1205.7,383.3"/>
<rect class="k" x="1209.5" y="394.6" width="2.7" height="6.4"/>
<rect class="k" x="1066.4" y="441.4" width="113.6" height="3"/>
<rect class="k" x="1354.8" y="394.6" width="6" height="6.4"/>
<rect class="k" x="1060.1" y="378.7" width="358.4" height="3.6"/>
<rect class="k" x="1060.1" y="378.7" width="6.3" height="209"/>
<rect class="k" x="1413.3" y="378.7" width="5.2" height="209"/>
<rect class="k" x="1060.1" y="582.5" width="358.4" height="5.1"/>
<rect class="k" x="1066.4" y="538.8" width="347" height="6.3"/>
<circle class="mg" cx="1241" cy="473" r="13.2"/><text class="lab" x="1241" y="478.7">15</text>
<text x="1066" y="638.7" font-size="25.5" fill="#111" textLength="270" lengthAdjust="spacingAndGlyphs">Partial Upper Floor (F2)</text>

<!-- scale bar & north -->
<rect class="k" x="1215.3" y="724.6" width="19.7" height="7.6"/>
<rect class="k" x="1235" y="732.2" width="48" height="7.6"/>
<rect class="k" x="1283" y="724.6" width="95.4" height="7.6"/>
<text x="1227" y="717.5" font-size="17" text-anchor="middle" fill="#111">2’</text>
<text x="1333" y="717.5" font-size="17" text-anchor="middle" fill="#111">10’</text>
<text x="1260.5" y="758" font-size="17" text-anchor="middle" fill="#111">5’</text>
<circle cx="1411.2" cy="727.2" r="15.8" fill="none" stroke="#000" stroke-width="3"/>
<line x1="1410.7" y1="727.5" x2="1413.3" y2="711.5" stroke="#000" stroke-width="2.8"/>

<!-- ================= LEGEND ================= -->
<text x="161" y="832" font-size="24" fill="#111" textLength="177" lengthAdjust="spacingAndGlyphs">First Floor Plan</text>
<g>
<text class="ln" x="163" y="897">1</text><text class="lg" x="195" y="897" textLength="41" lengthAdjust="spacingAndGlyphs">Entry</text>
<text class="ln" x="163" y="929.3">2</text><text class="lg" x="195" y="929.3" textLength="144" lengthAdjust="spacingAndGlyphs">Main Dining Room</text>
<text class="ln" x="163" y="961.6">3</text><text class="lg" x="195" y="961.6" textLength="155" lengthAdjust="spacingAndGlyphs">Family Dining Room</text>
<text class="ln" x="163" y="993.9">4</text><text class="lg" x="195" y="993.9" textLength="120" lengthAdjust="spacingAndGlyphs">Service Kitchen</text>
<text class="ln" x="163" y="1026.2">5</text><text class="lg" x="195" y="1026.2" textLength="127" lengthAdjust="spacingAndGlyphs">Catering Kitchen</text>

<text class="ln" x="506" y="897" text-anchor="end">6</text><text class="lg" x="531" y="897" textLength="202" lengthAdjust="spacingAndGlyphs">Classroom/Meeting Room</text>
<text class="ln" x="506" y="929.3" text-anchor="end">7</text><text class="lg" x="531" y="929.3" textLength="55" lengthAdjust="spacingAndGlyphs">Offices</text>
<text class="ln" x="506" y="961.6" text-anchor="end">8</text><text class="lg" x="531" y="961.6" textLength="131" lengthAdjust="spacingAndGlyphs">Computer alcove</text>
<text class="ln" x="506" y="993.9" text-anchor="end">9</text><text class="lg" x="531" y="993.9" textLength="96" lengthAdjust="spacingAndGlyphs">Locker room</text>
<text class="ln" x="506" y="1026.2" text-anchor="end">10</text><text class="lg" x="531" y="1026.2" textLength="132" lengthAdjust="spacingAndGlyphs">Mechanical room</text>

<text class="ln" x="820.6" y="897">11</text><text class="lg" x="867" y="897" textLength="104" lengthAdjust="spacingAndGlyphs">Storage room</text>
<text class="ln" x="820.6" y="929.3">12</text><text class="lg" x="867" y="929.3" textLength="107" lengthAdjust="spacingAndGlyphs">Delivery entry</text>
<text class="ln" x="820.6" y="961.6">13</text><text class="lg" x="867" y="961.6" textLength="140" lengthAdjust="spacingAndGlyphs">Staff/Trainee entry</text>
<text class="ln" x="820.6" y="993.9">14</text><text class="lg" x="867" y="993.9" textLength="114" lengthAdjust="spacingAndGlyphs">Electrical room</text>
<text class="ln" x="820.6" y="1026.2">15</text><text class="lg" x="867" y="1026.2" textLength="147" lengthAdjust="spacingAndGlyphs">Multipurpose room</text>
</g>
</svg>
</body></html>
